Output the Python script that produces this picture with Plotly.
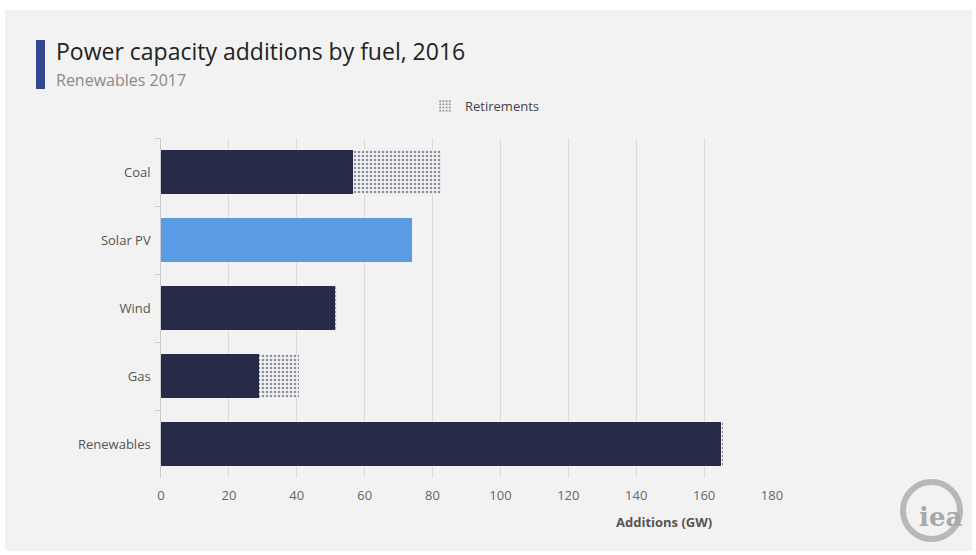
import plotly.graph_objects as go

categories = ["Coal", "Solar PV", "Wind", "Gas", "Renewables"]
additions = [56.6, 73.8, 51.3, 28.8, 165.0]
retirements = [25.9, 0.0, 0.4, 11.8, 0.6]
add_colors = ["#262c47", "#5b9be6", "#262c47", "#262c47", "#262c47"]
x_ticks = [0, 20, 40, 60, 80, 100, 120, 140, 160, 180]

W, H = 976, 555
L, R, T, B = 161, 204, 138, 77
pw, ph = W - L - R, H - T - B

def px(x):
    return (x - L) / pw

def py(y):
    return (H - B - y) / ph

FONT = "'Open Sans', Lato, sans-serif"

fig = go.Figure()
fig.add_trace(go.Bar(
    y=categories, x=additions, orientation="h",
    marker=dict(color=add_colors, line=dict(width=0)),
    width=0.66, showlegend=False, hoverinfo="skip",
))
fig.add_trace(go.Bar(
    y=categories, x=retirements, orientation="h", name="Retirements",
    marker=dict(color="#f2f2f2", line=dict(width=0),
                pattern=dict(shape=".", fgcolor="#262c47", bgcolor="#f2f2f2",
                             size=4, solidity=0.35)),
    width=0.66, showlegend=True, hoverinfo="skip",
))

fig.update_layout(
    width=W, height=H,
    margin=dict(l=L, r=R, t=T, b=B),
    barmode="stack",
    paper_bgcolor="white",
    plot_bgcolor="rgba(0,0,0,0)",
    font=dict(family=FONT, color="#555555", size=13),
    showlegend=True,
    legend=dict(orientation="h", x=px(425), y=py(106), xanchor="left", yanchor="middle",
                bgcolor="rgba(0,0,0,0)", font=dict(size=13, color="#444444"),
                itemwidth=30),
    xaxis=dict(range=[0, 180], tickvals=x_ticks, showgrid=True, gridcolor="#dcdcdc",
               gridwidth=1, zeroline=False, showline=False, ticks="",
               ticklabelstandoff=8,
               tickfont=dict(size=13, color="#666666"), fixedrange=True),
    yaxis=dict(categoryorder="array", categoryarray=categories, autorange="reversed",
               showline=True, linecolor="#cccccc", linewidth=1, ticks="outside",
               tickson="boundaries", ticklen=5, tickcolor="#cccccc",
               tickfont=dict(size=13, color="#555555"), showgrid=False, zeroline=False,
               ticksuffix="  "),
)

shapes = [
    dict(type="rect", xref="paper", yref="paper", x0=px(5), x1=px(972), y0=py(551), y1=py(10),
         fillcolor="#f2f2f2", line=dict(width=0), layer="below"),
    dict(type="rect", xref="paper", yref="paper", x0=px(36), x1=px(45), y0=py(89), y1=py(40),
         fillcolor="#34468f", line=dict(width=0)),
    dict(type="circle", xref="paper", yref="paper", x0=px(903), x1=px(960), y0=py(539), y1=py(482),
         line=dict(color="#b8b8b8", width=6)),
]
fig.update_layout(shapes=shapes)

annotations = [
    dict(text="Power capacity additions by fuel, 2016", xref="paper", yref="paper",
         x=px(54), y=py(51), xanchor="left", yanchor="middle", showarrow=False,
         font=dict(size=23, color="#222222", family=FONT)),
    dict(text="Renewables 2017", xref="paper", yref="paper",
         x=px(54), y=py(80), xanchor="left", yanchor="middle", showarrow=False,
         font=dict(size=16, color="#8a8a8a", family=FONT)),
    dict(text="<b>Additions (GW)</b>", xref="paper", yref="paper",
         x=px(664), y=py(522), xanchor="center", yanchor="middle", showarrow=False,
         font=dict(size=13, color="#555555", family=FONT)),
    dict(text="<b>iea</b>", xref="paper", yref="paper",
         x=px(940), y=py(517), xanchor="center", yanchor="middle", showarrow=False,
         font=dict(size=26, color="#a8a8a8", family="DejaVu Serif, serif")),
]
fig.update_layout(annotations=annotations)

fig.write_html("out.html")
